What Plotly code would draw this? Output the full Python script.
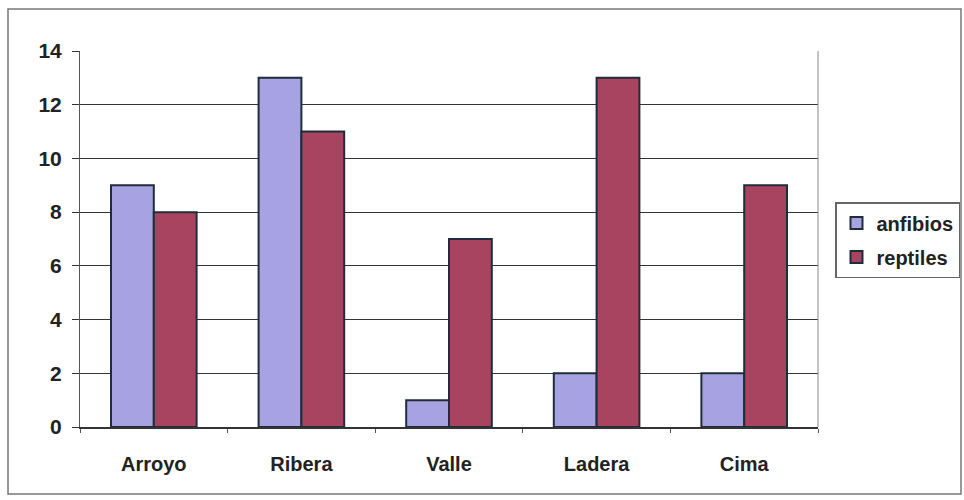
import plotly.graph_objects as go

# Habitat categories and species counts per group
habitats = ["Arroyo", "Ribera", "Valle", "Ladera", "Cima"]
anfibios = [9, 13, 1, 2, 2]
reptiles = [8, 11, 7, 13, 9]
y_ticks = [0, 2, 4, 6, 8, 10, 12, 14]

W, H = 964, 500
L, R, T, B = 80, 146, 51, 73
pw, ph = W - L - R, H - T - B

def px_x(x):
    return (x - L) / pw

def px_y(y):
    return (H - B - y) / ph

FAMILY = "Liberation Sans, Arial, sans-serif"
outline = dict(color="#1f2d3a", width=2)

fig = go.Figure()
fig.add_trace(go.Bar(x=habitats, y=anfibios, name="anfibios", legendgroup="a",
                     marker=dict(color="#a7a3e2", line=outline)))
fig.add_trace(go.Bar(x=habitats, y=reptiles, name="reptiles", legendgroup="r",
                     marker=dict(color="#a8445f", line=outline)))

fig.update_layout(
    width=W, height=H,
    margin=dict(l=L, r=R, t=T, b=B, autoexpand=False),
    paper_bgcolor="white", plot_bgcolor="white",
    barmode="group", bargap=0.42, bargroupgap=0,
    font=dict(family=FAMILY, size=20, color="#222222", weight="bold"),
    showlegend=True,
    legend=dict(
        x=px_x(835), y=px_y(202), xanchor="left", yanchor="top",
        bordercolor="#666666", borderwidth=1.5, bgcolor="white",
        font=dict(family=FAMILY, size=20, color="#222222", weight="bold"),
        itemwidth=30, traceorder="grouped", tracegroupgap=5,
    ),
    xaxis=dict(
        showline=True, linecolor="#333333", linewidth=1.5,
        ticks="outside", tickson="boundaries", ticklen=4, tickcolor="#555555",
        ticklabelstandoff=18, showgrid=False,
        tickfont=dict(family=FAMILY, size=20, color="#222222", weight="bold"),
    ),
    yaxis=dict(
        range=[0, 14], tickvals=y_ticks,
        showline=True, linecolor="#555555", linewidth=1,
        ticks="outside", ticklen=7, tickcolor="#333333",
        showgrid=True, gridcolor="#333333", gridwidth=1.2,
        zeroline=False, ticklabelstandoff=6,
        tickfont=dict(family=FAMILY, size=21, color="#222222", weight="bold"),
    ),
    shapes=[
        # outer chart frame
        dict(type="rect", xref="paper", yref="paper",
             x0=px_x(8), x1=px_x(961), y0=px_y(494), y1=px_y(9),
             line=dict(color="#777777", width=1.5), layer="below"),
        # right edge of plot area
        dict(type="line", xref="paper", yref="paper",
             x0=1, x1=1, y0=0, y1=1,
             line=dict(color="#888888", width=1)),
    ],
)
fig.write_html("out.html")
